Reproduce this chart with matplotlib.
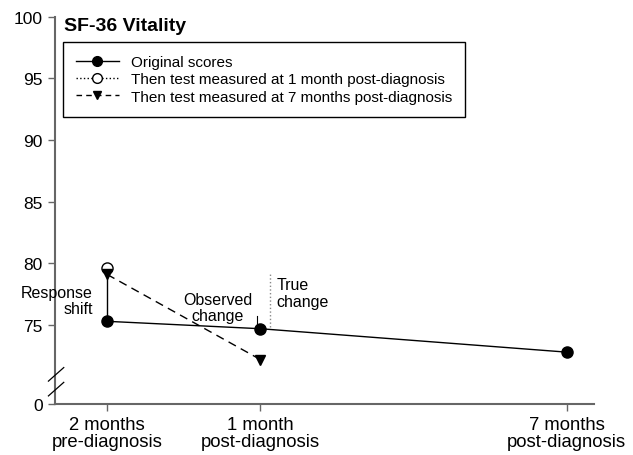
#!/usr/bin/env python3
# -*- coding: utf-8 -*-

import matplotlib
matplotlib.use('Agg')
import matplotlib.pyplot as plt
from matplotlib.lines import Line2D

plt.rcParams['font.family'] = ['Liberation Sans', 'DejaVu Sans']

# months relative to diagnosis
months = [-2, 1, 7]
xlabels = ['2 months\npre-diagnosis', '1 month\npost-diagnosis', '7 months\npost-diagnosis']

original = [75.3, 74.7, 72.8]
then_1m_x = [-2]
then_1m = [79.6]
then_7m_x = [-2, 1]
then_7m = [79.1, 72.2]

# broken y axis: "0" is drawn at the bottom of the visible range
y_zero_pos = 68.6
yticks = [y_zero_pos, 75, 80, 85, 90, 95, 100]
ylabels = ['0', '75', '80', '85', '90', '95', '100']

fig = plt.figure(figsize=(6.33, 4.56), dpi=100)
ax = fig.add_axes([0.087, 0.112, 0.851, 0.849])

grey = '#666666'

ax.plot(months, original, '-', color='black', lw=1, marker='o', ms=8,
        mfc='black', mec='black', zorder=3)
ax.plot(then_1m_x, then_1m, ':', color='black', lw=1, marker='o', ms=8,
        mfc='white', mec='black', zorder=4)
ax.plot(then_7m_x, then_7m, '--', color='black', lw=1, marker='v', ms=7,
        mfc='black', mec='black', dashes=(6, 4), zorder=4)

# response shift bar
ax.plot([-2, -2], [original[0], then_1m[0]], '-', color='black', lw=1, zorder=2)
ax.text(-2.28, 77.0, 'Response\nshift', ha='right', va='center', fontsize=11.5,
        linespacing=1.1, clip_on=False, zorder=5)

# observed change marker
ax.plot([0.93, 0.93], [75.1, 75.7], '-', color='black', lw=0.8)
ax.text(0.17, 76.4, 'Observed\nchange', ha='center', va='center', fontsize=11.5,
        linespacing=1.1)

# true change marker
ax.plot([1.18, 1.18], [74.8, 79.1], ':', color='#888888', lw=1)
ax.text(1.32, 77.6, 'True\nchange', ha='left', va='center', fontsize=11.5,
        linespacing=1.1)

ax.set_xlim(-3.02, 7.53)
ax.set_ylim(y_zero_pos, 100)
ax.set_xticks(months)
ax.set_xticklabels(xlabels, fontsize=13.3, linespacing=1.0)
ax.set_yticks(yticks)
ax.set_yticklabels(ylabels, fontsize=12.5)

for s in ['top', 'right']:
    ax.spines[s].set_visible(False)
for s in ['left', 'bottom']:
    ax.spines[s].set_color(grey)
    ax.spines[s].set_linewidth(1.5)
ax.tick_params(axis='both', direction='out', length=5, width=1, colors=grey,
               labelcolor='black', pad=4)

# axis break marks
for yb in [71.0, 69.8]:
    ax.plot([-3.15, -2.85], [yb - 0.55, yb + 0.55], '-', color='black', lw=0.9,
            clip_on=False, zorder=6)

ax.text(-2.85, 99.3, 'SF-36 Vitality', fontsize=14, fontweight='bold',
        ha='left', va='center')

handles = [
    Line2D([], [], color='black', ls='-', lw=1, marker='o', ms=7, mfc='black', mec='black'),
    Line2D([], [], color='black', ls=':', lw=1, marker='o', ms=7, mfc='white', mec='black'),
    Line2D([], [], color='black', ls='--', lw=1, marker='v', ms=6, mfc='black', mec='black',
           dashes=(4, 3)),
]
leg = ax.legend(handles, ['Original scores',
                          'Then test measured at 1 month post-diagnosis',
                          'Then test measured at 7 months post-diagnosis'],
                loc='upper left', bbox_to_anchor=(0.0145, 0.935), fontsize=11,
                frameon=True, fancybox=False, edgecolor='black', framealpha=1,
                handlelength=2.8, handletextpad=0.8, labelspacing=0.22,
                borderpad=0.85, borderaxespad=0)
leg.get_frame().set_linewidth(1)

fig.savefig('out.png', dpi=100)
